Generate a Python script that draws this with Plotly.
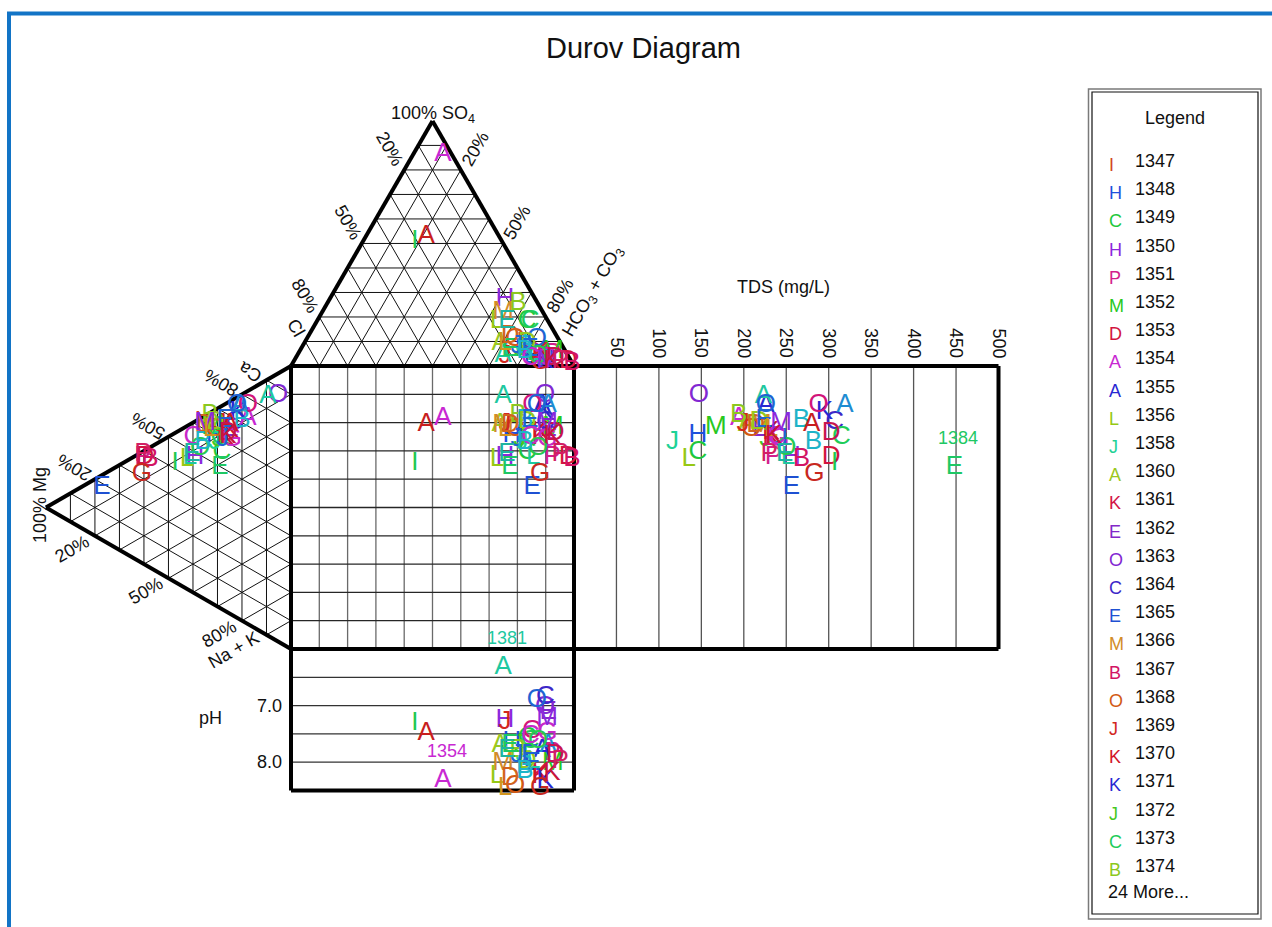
import numpy as np
import plotly.graph_objects as go

FONT = "Liberation Sans, Arial, Helvetica, sans-serif"

# ---------------------------------------------------------------- data
sample_ids = [1347, 1348, 1349, 1350, 1351, 1352, 1353, 1354, 1355, 1356,
              1358, 1360, 1361, 1362, 1363, 1364, 1365, 1366, 1367, 1368,
              1369, 1370, 1371, 1372, 1373, 1374, 1375, 1376, 1377, 1378,
              1379, 1380, 1381, 1382, 1383, 1384, 1385, 1386, 1387, 1388,
              1389, 1390, 1391, 1392, 1393, 1394, 1395, 1396, 1397, 1398]
symbols = ["I", "H", "C", "H", "P", "M", "D", "A", "A", "L",
           "J", "A", "K", "E", "O", "C", "E", "M", "B", "O",
           "J", "K", "K", "J", "C", "B", "A", "O", "G", "L",
           "B", "A", "A", "I", "G", "E", "O", "D", "D", "E",
           "D", "O", "J", "C", "B", "E", "M", "L", "K", "P"]
colors = ["#D2461E", "#1E50DC", "#1EC83C", "#8C28DC", "#D21E8C", "#28C81E", "#D21440", "#C828D2", "#2828D2", "#96C814",
          "#1ED296", "#9BC81E", "#D21446", "#8228C8", "#8228D2", "#3C28C8", "#1E50D2", "#D28C28", "#D21464", "#D25A14",
          "#D2281E", "#D21428", "#2828D2", "#46C81E", "#1ECC5A", "#8CC81E", "#1E8CD2", "#D2147A", "#C828C8", "#1EC8A0",
          "#1EB4C8", "#C81E1E", "#1EC8A0", "#1EC850", "#C8281E", "#1EC864", "#1E64D2", "#D2641E", "#96C81E", "#1E64D2",
          "#C81450", "#28C850", "#1E64D2", "#C828C8", "#1EB4C8", "#1EB4A0", "#8C28DC", "#D2961E", "#C8143C", "#D21E64"]

# anions, % meq
cl_pct = [14.6, 18.5, 7.6, 10.8, 5.5, 4.4, 1.1, 3.1, 9.4, 18.2,
          14.3, 21.6, 9.5, 7.7, 9.2, 8.7, 12.9, 14.1, 0.1, 15.3,
          22.5, 10.5, 9.2, 15.7, 6.5, 7.2, 7.7, 12.3, 8.0, 12.0,
          13.4, 25.9, 23.0, 30.7, 11.2, 19.2, 7.6, 16.5, 12.1, 12.1,
          5.2, 10.8, 16.2, 14.0, 14.3, 14.7, 8.5, 19.9, 6.8, 3.9]
so4_pct = [9.0, 6.9, 18.0, 27.3, 4.5, 6.1, 2.0, 86.5, 3.7, 18.0,
           8.2, 9.0, 4.9, 2.9, 2.0, 2.9, 3.7, 22.0, 1.2, 11.0,
           3.7, 2.9, 2.0, 6.9, 18.0, 25.3, 2.9, 4.9, 2.9, 4.9,
           7.8, 52.7, 4.1, 51.0, 1.6, 6.9, 11.0, 12.2, 9.0, 6.9,
           2.9, 3.7, 7.8, 2.9, 6.1, 18.0, 2.0, 9.0, 2.0, 2.0]
hco3_pct = [76.4, 74.6, 74.4, 61.9, 90.0, 89.5, 96.9, 10.4, 86.9, 63.8,
            77.5, 69.4, 85.6, 89.4, 88.8, 88.4, 83.4, 63.9, 98.7, 73.7,
            73.8, 86.6, 88.8, 77.4, 75.5, 67.5, 89.4, 82.8, 89.1, 83.1,
            78.8, 21.4, 72.9, 18.3, 87.2, 73.9, 81.4, 71.3, 78.9, 81.0,
            91.9, 85.5, 76.0, 83.1, 79.6, 67.3, 89.5, 71.1, 91.2, 94.1]

# cations, % meq
ca_pct = [61.2, 60.1, 55.5, 47.9, 37.6, 62.0, 37.7, 72.8, 75.8, 45.6,
          57.6, 62.7, 61.4, 65.0, 87.1, 68.5, 18.6, 61.6, 38.0, 61.9,
          64.7, 64.3, 72.6, 59.0, 60.1, 65.8, 75.8, 77.1, 61.9, 47.2,
          70.9, 66.8, 84.7, 42.0, 31.1, 49.8, 75.2, 61.6, 64.7, 67.4,
          63.4, 52.4, 60.0, 54.9, 55.1, 48.4, 62.3, 60.9, 62.4, 38.4]
mg_pct = [38.0, 31.0, 28.2, 39.2, 60.4, 32.2, 59.6, 17.6, 20.8, 42.4,
          31.0, 33.1, 26.9, 24.9, 5.3, 22.9, 77.1, 35.1, 57.6, 31.0,
          29.0, 24.1, 21.6, 29.8, 29.0, 33.1, 20.8, 17.6, 24.1, 41.2,
          20.0, 24.9, 9.4, 47.3, 60.8, 29.0, 22.0, 35.1, 31.0, 26.9,
          25.7, 37.1, 27.8, 40.0, 35.9, 40.4, 35.1, 33.1, 25.7, 60.4]
nak_pct = [0.8, 8.9, 16.3, 12.9, 2.0, 5.8, 2.7, 9.6, 3.4, 12.0,
           11.4, 4.2, 11.7, 10.1, 7.6, 8.6, 4.3, 3.3, 4.4, 7.1,
           6.3, 11.6, 5.8, 11.2, 10.9, 1.1, 3.4, 5.3, 14.0, 11.6,
           9.1, 8.3, 5.9, 10.7, 8.1, 21.2, 2.8, 3.3, 4.3, 5.7,
           10.9, 10.5, 12.2, 5.1, 9.0, 11.2, 2.6, 6.0, 11.9, 1.2]

tds_mgl = [211, 146, 146, 256, 235, 167, 303, 194, 226, 135,
           116, 203, 232, 220, 147, 307, 256, 220, 268, 209,
           199, 232, 295, 226, 315, 194, 319, 288, 242, 252,
           268, 280, 223, 307, 283, 448, 226, 214, 218, 224,
           303, 250, 244, 238, 282, 248, 244, 232, 235, 230]
# None = pH not measured
ph_vals = [8.07, 7.66, 7.59, 7.27, 7.84, 8.02, None, 8.32, 7.80, 8.25,
           7.89, 7.71, 8.21, 7.13, 7.04, 6.86, 8.02, 8.02, None, 8.43,
           7.30, 8.25, 8.34, 7.71, 7.63, 7.80, 7.71, 7.45, 7.50, 7.98,
           8.07, 7.50, 6.32, 7.32, 8.46, 7.71, 6.91, 8.29, 7.98, 7.89,
           7.89, 7.63, 7.89, 7.54, 8.16, 7.80, 7.23, 8.46, 8.20, 7.98]

tds_ticks = [50, 100, 150, 200, 250, 300, 350, 400, 450, 500]
ph_tick_labels = [7.0, 8.0]
ph_grid = [6.5, 7.0, 7.5, 8.0]
pct_marks = [20, 50, 80]
callouts = {1381: "ph", 1354: "ph", 1384: "tds"}
legend_rows = 26

# ---------------------------------------------------------------- geometry
R3 = np.sqrt(3) / 2
TRI_H = 100 * R3              # triangle height, square side = 100
TDS_MAX, TDS_W = 500.0, 150.0  # TDS panel to the right of the square
PH_MIN, PH_MAX, PH_H = 6.0, 8.5, 50.0  # pH panel below the square


def anion_xy(cl, so4, hco3):
    t = cl + so4 + hco3
    s, h = so4 / t * 100, hco3 / t * 100
    return h + s / 2, 100 + s * R3


def cation_xy(ca, mg, nak):
    t = ca + mg + nak
    c, m = ca / t * 100, mg / t * 100
    return -m * R3, c + m / 2


def tds_x(v):
    return 100 + v / TDS_MAX * TDS_W


def ph_y(v):
    return -(v - PH_MIN) / (PH_MAX - PH_MIN) * PH_H


cl_a, so4_a, hco3_a = map(np.asarray, (cl_pct, so4_pct, hco3_pct))
ca_a, mg_a, nak_a = map(np.asarray, (ca_pct, mg_pct, nak_pct))
ax_, ay_ = anion_xy(cl_a, so4_a, hco3_a)
cx_, cy_ = cation_xy(ca_a, mg_a, nak_a)
tx_ = tds_x(np.asarray(tds_mgl, float))
py_ = [None if p is None else ph_y(p) for p in ph_vals]

fig = go.Figure()


def add_segments(segs, color, width):
    xs, ys = [], []
    for (x0, y0), (x1, y1) in segs:
        xs += [x0, x1, None]
        ys += [y0, y1, None]
    fig.add_trace(go.Scatter(x=xs, y=ys, mode="lines", hoverinfo="skip",
                             line=dict(color=color, width=width), showlegend=False))


# triangle grids (10 % steps)
tri_segs = []
for k in range(1, 10):
    v = 10.0 * k
    tri_segs.append(((v / 2, 100 + v * R3), (100 - v / 2, 100 + v * R3)))
    tri_segs.append(((v, 100), (v + (100 - v) / 2, 100 + (100 - v) * R3)))
    tri_segs.append(((100 - v, 100), ((100 - v) / 2, 100 + (100 - v) * R3)))
    tri_segs.append(((-v * R3, v / 2), (-v * R3, 100 - v / 2)))
    tri_segs.append(((0, v), (-(100 - v) * R3, v + (100 - v) / 2)))
    tri_segs.append(((0, 100 - v), (-(100 - v) * R3, (100 - v) / 2)))
add_segments(tri_segs, "#111111", 1)

# square grid
add_segments([((10.0 * k, 0), (10.0 * k, 100)) for k in range(1, 10)], "#6a6a6a", 1.3)
add_segments([((0, 10.0 * k), (100, 10.0 * k)) for k in range(1, 10)], "#262626", 1.3)

# TDS and pH panel grids
add_segments([((tds_x(t), 0), (tds_x(t), 100)) for t in tds_ticks[:-1]], "#555555", 1.3)
add_segments([((0, ph_y(p)), (100, ph_y(p))) for p in ph_grid], "#333333", 1.3)

# heavy outlines
outline = [
    ((0, 100), (50, 100 + TRI_H)), ((50, 100 + TRI_H), (100, 100)),
    ((0, 100), (-TRI_H, 50)), ((-TRI_H, 50), (0, 0)),
    ((0, 0), (0, 100)), ((0, 100), (100 + TDS_W, 100)),
    ((100 + TDS_W, 100), (100 + TDS_W, 0)), ((100 + TDS_W, 0), (0, 0)),
    ((100, 100), (100, -PH_H)), ((0, 0), (0, -PH_H)), ((0, -PH_H), (100, -PH_H)),
]
add_segments(outline, "#000000", 4)

# sample symbols in every panel
for xs, ys in [(ax_, ay_), (cx_, cy_), (ax_, cy_), (tx_, cy_), (ax_, py_)]:
    fig.add_trace(go.Scatter(
        x=list(xs), y=list(ys), mode="text", text=symbols, showlegend=False,
        textposition="middle center", cliponaxis=False, hoverinfo="skip",
        textfont=dict(family=FONT, size=26, color=colors)))

ann = []


def label(x, y, text, size=18, angle=0, color="#111111", xanchor="center",
          yanchor="middle", ref="data", **kw):
    r = {} if ref == "data" else dict(xref="paper", yref="paper")
    ann.append(dict(x=x, y=y, text=text, showarrow=False, textangle=angle,
                    xanchor=xanchor, yanchor=yanchor,
                    font=dict(family=FONT, size=size, color=color), **r, **kw))


# anion triangle labels
label(50, 100 + TRI_H + 2.4, "100% SO<sub>4</sub>")
for p in pct_marks:
    f = p / 100
    label(50 - 50 * f - 5, 100 + TRI_H - TRI_H * f + 7.5, f"{p}%", angle=60)
    label(50 + 50 * f + 5, 100 + TRI_H - TRI_H * f + 7.5, f"{p}%", angle=-60)
label(1.9, 113.6, "Cl", angle=60)
label(106.7, 126.5, "HCO<sub>3</sub> + CO<sub>3</sub>", angle=-60)

# cation triangle labels
for p in pct_marks:
    f = p / 100
    label(-TRI_H + TRI_H * f - 7.2, 50 + 50 * f + 4, f"{p}%", angle=-150)
    label(-TRI_H + TRI_H * f - 8.1, 50 - 50 * f - 4.6, f"{p}%", angle=-30)
label(-14.5, 98.1, "Ca", angle=-150)
label(-20.3, -0.4, "Na + K", angle=-30)
label(-TRI_H - 2.1, 50.9, "100% Mg", angle=-90)

# TDS panel labels
label(174.2, 127.9, "TDS (mg/L)")
for t in tds_ticks:
    s = str(t)
    label(tds_x(t), 102.8 + 1.77 * len(s), s, angle=90)

# pH panel labels
label(-28.6, -24.4, "pH")
for p in ph_tick_labels:
    label(-2.4, ph_y(p), f"{p:.1f}", xanchor="right")

# callout labels above selected samples
for sid, panel in callouts.items():
    i = sample_ids.index(sid)
    x, y = (ax_[i], py_[i]) if panel == "ph" else (tx_[i], cy_[i])
    label(x, y, str(sid), color=colors[i], xshift=4, yshift=29)

# title
W, Hpx = 1272, 927
label(643 / W, 1 - 48 / Hpx, "Durov Diagram", size=29, ref="paper")

# legend panel
label(1175 / W, 1 - 118 / Hpx, "Legend", ref="paper")
for r in range(legend_rows):
    yy = 161 + 28.2 * r
    label(1107 / W, 1 - (yy + 4) / Hpx, symbols[r], color=colors[r], xanchor="left", ref="paper")
    label(1133 / W, 1 - yy / Hpx, str(sample_ids[r]), xanchor="left", ref="paper")
label(1106 / W, 1 - 892 / Hpx, f"{len(sample_ids) - legend_rows} More...", xanchor="left", ref="paper")

shapes = [
    dict(type="rect", xref="paper", yref="paper", x0=9 / W, x1=1.05, y0=-0.05, y1=1 - 13.5 / Hpx,
         line=dict(color="#1274C6", width=4)),
    dict(type="rect", xref="paper", yref="paper", x0=1088.5 / W, x1=1261 / W,
         y0=1 - 919 / Hpx, y1=1 - 89 / Hpx, line=dict(color="#7a7a7a", width=1.5)),
    dict(type="rect", xref="paper", yref="paper", x0=1092 / W, x1=1258 / W,
         y0=1 - 914 / Hpx, y1=1 - 92 / Hpx, line=dict(color="#111111", width=1.2)),
]

PX = 2.83
fig.update_layout(
    width=W, height=Hpx, margin=dict(l=0, r=0, t=0, b=0),
    paper_bgcolor="white", plot_bgcolor="white", showlegend=False,
    xaxis=dict(range=[-291 / PX, (W - 291) / PX], visible=False, fixedrange=True),
    yaxis=dict(range=[(649 - Hpx) / PX, 649 / PX], visible=False, fixedrange=True),
    annotations=ann, shapes=shapes,
)

fig.write_html("out.html")
